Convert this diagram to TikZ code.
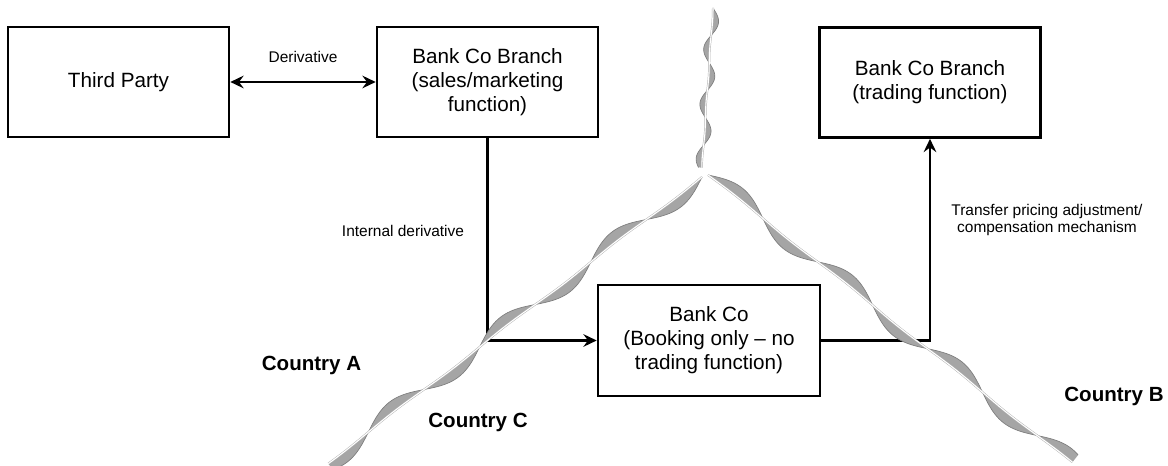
\documentclass[tikz,border=0pt]{standalone}
\usepackage{fontspec}
\setmainfont{Liberation Sans}
\usetikzlibrary{arrows.meta}
\definecolor{ribfill}{RGB}{165,165,165}
\definecolor{ribedge}{RGB}{125,125,125}
\newcommand{\myribbon}[7]{%
  \begin{scope}[shift={(#1,#2)}, rotate=#3]
    \fill[ribfill] plot[domain=0:#4, samples=160, smooth] (\x,{(#6+#7)*sin((360/#5)*\x)})
      -- plot[domain=#4:0, samples=160, smooth] (\x,{(#6-#7)*sin((360/#5)*\x)}) -- cycle;
    \draw[ribedge, line width=0.5pt] plot[domain=0:#4, samples=160, smooth] (\x,{(#6+#7)*sin((360/#5)*\x)});
    \draw[ribedge!60, line width=1.5pt] plot[domain=0:#4, samples=160, smooth] (\x,{(#6-#7)*sin((360/#5)*\x)});
    \draw[white, line width=0.8pt] plot[domain=0:#4, samples=160, smooth] (\x,{(#6-#7)*sin((360/#5)*\x)});
  \end{scope}}
\begin{document}
\begin{tikzpicture}[x=0.75pt, y=0.75pt,
  box/.style={draw, line width=2pt, minimum width=165.75pt, minimum height=82.5pt,
    align=center, inner sep=0pt, font=\fontsize{15.5}{18}\selectfont},
  lbl/.style={font=\fontsize{11.6}{12.75}\selectfont, inner sep=0pt, align=center},
  ctry/.style={font=\fontsize{15.4}{18}\selectfont\bfseries, inner sep=0pt, anchor=base},
  conn/.style={line width=1.6pt},
  tip/.style={-{Stealth[length=10pt, width=9.5pt, inset=3.5pt]}},
  dtip/.style={{Stealth[length=10pt, width=9.5pt, inset=3.5pt]}-{Stealth[length=10pt, width=9.5pt, inset=3.5pt]}}
]
\useasboundingbox (0,0) rectangle (1168,466);

\node[box] (tp) at (118.5,384) {Third Party};
\node[box] (sales) at (487.5,384) {Bank Co Branch\\(sales/marketing\\function)};
\node[box] (trade) at (930,383.5) {Bank Co Branch\\(trading function)};
\node[box, minimum width=166.5pt, minimum height=83.25pt] (bank) at (709,125.5) {Bank Co\\(Booking only -- no\\trading function)};

\draw[conn, dtip] (tp) -- (sales);
\draw[conn, tip] (sales.south) |- (bank.west);
\draw[conn, tip] (bank.east) -| (trade.south);

\node[lbl, anchor=base] (lderiv) at (303,403.5) {Derivative};
\node[lbl, anchor=base] (lint) at (403,229.3) {Internal derivative};
\node[lbl, anchor=base] (ltp) at (1047,233.7) {Transfer pricing adjustment/\\compensation mechanism};

\node[ctry] (ca) at (311.5,95) {Country A};
\node[ctry] (cc) at (478,38) {Country C};
\node[ctry] (cb) at (1114,64.7) {Country B};

% borders (twisted ribbons)
\myribbon{713}{458}{266.07}{160}{55}{3.5}{3}
\myribbon{702}{289}{217.4}{471}{140}{6}{5}
\myribbon{708}{291}{-38.35}{464}{140}{6}{5}
\end{tikzpicture}
\end{document}
